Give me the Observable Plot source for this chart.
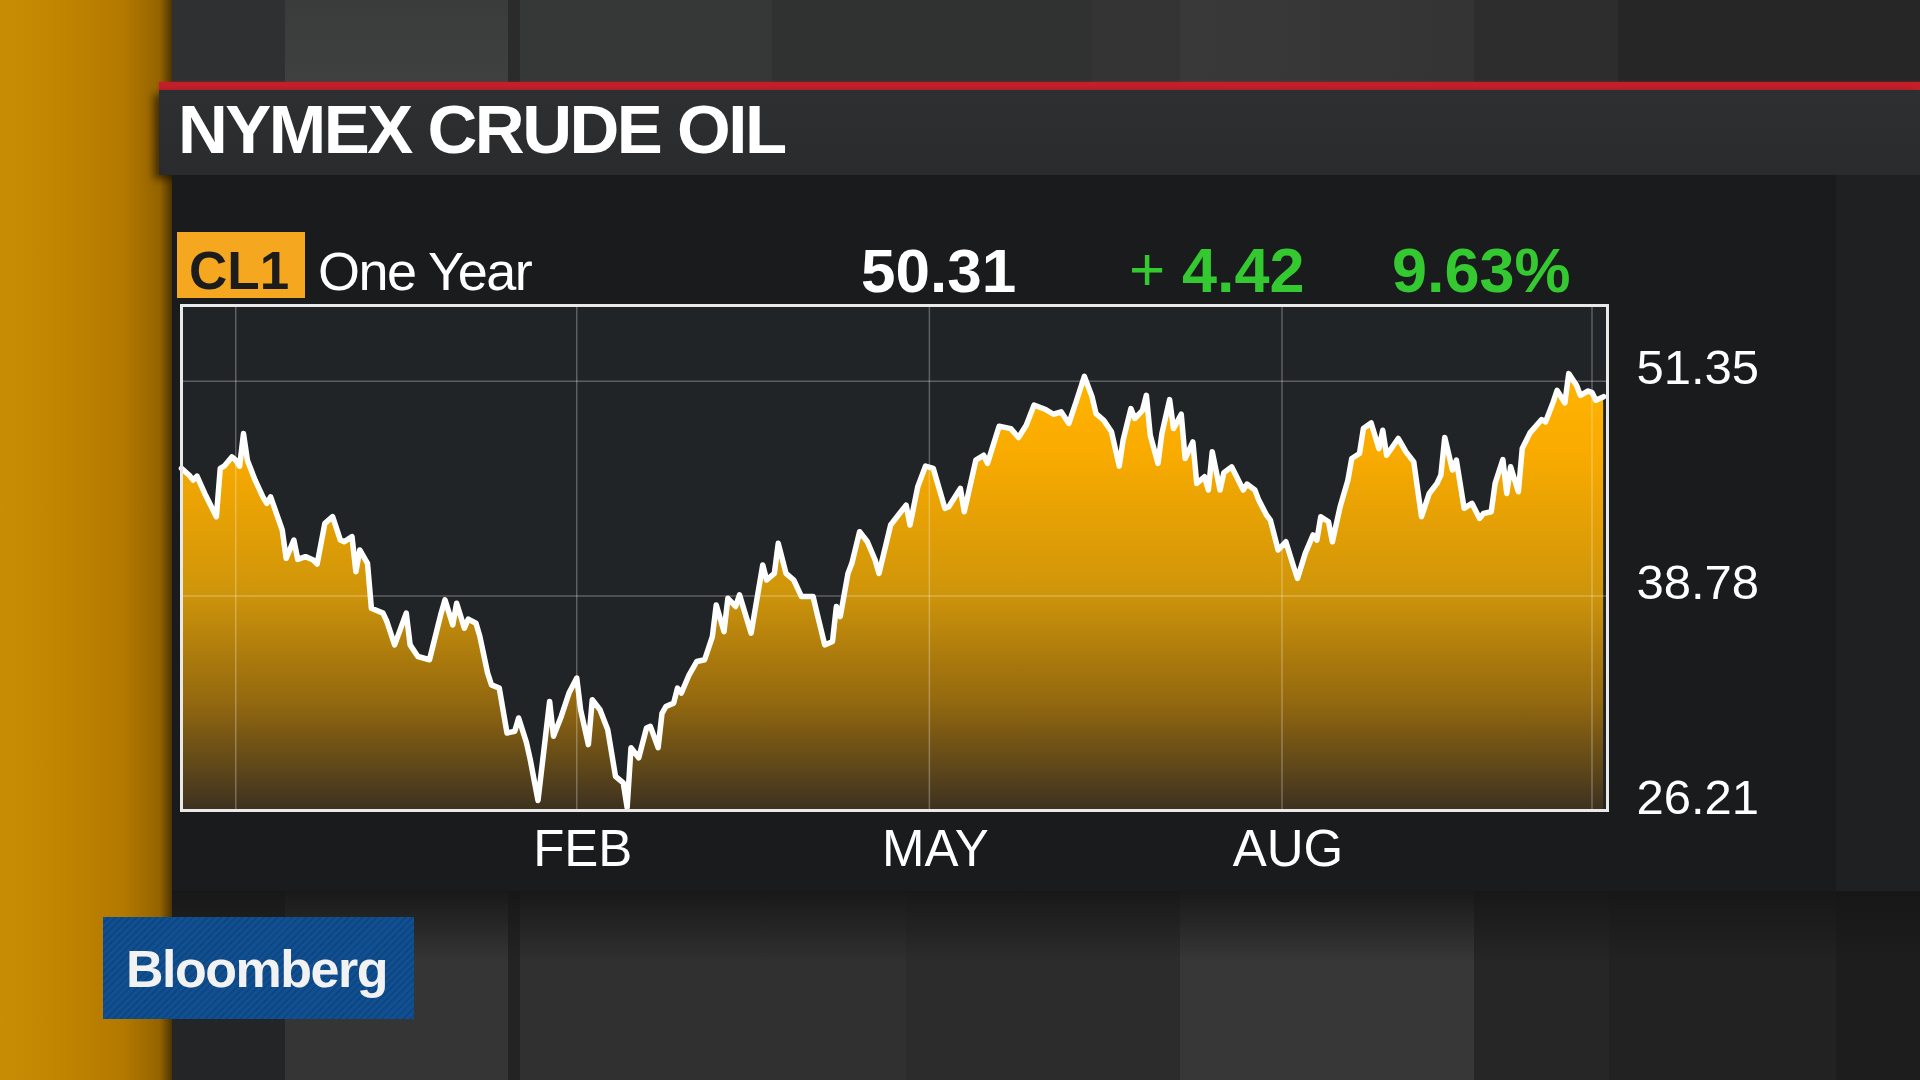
<!DOCTYPE html>
<html><head><meta charset="utf-8">
<script src="https://cdn.jsdelivr.net/npm/d3@7"></script>
<script src="https://cdn.jsdelivr.net/npm/@observablehq/plot@0.6"></script>
<style>
html,body{margin:0;padding:0;background:#2a2a2a;width:1920px;height:1080px;overflow:hidden;}
#stage{position:relative;width:1920px;height:1080px;font-family:"Liberation Sans",Arial,sans-serif;}
.bg{position:absolute;}
#deco{position:absolute;left:0;top:0;}
#chart{position:absolute;left:170px;top:296px;}
</style></head><body>
<div id="stage">
  <!-- top strip panels -->
  <div class="bg" style="left:172px;top:0;width:113px;height:83px;background:#2f3031"></div>
  <div class="bg" style="left:285px;top:0;width:223px;height:83px;background:linear-gradient(#3a3b3b,#3f4040)"></div>
  <div class="bg" style="left:508px;top:0;width:12px;height:83px;background:#2b2b2b"></div>
  <div class="bg" style="left:520px;top:0;width:252px;height:83px;background:#363737"></div>
  <div class="bg" style="left:772px;top:0;width:320px;height:83px;background:#303131"></div>
  <div class="bg" style="left:1092px;top:0;width:88px;height:83px;background:#343434"></div>
  <div class="bg" style="left:1180px;top:0;width:294px;height:83px;background:linear-gradient(to right,#393939,#343434)"></div>
  <div class="bg" style="left:1474px;top:0;width:144px;height:83px;background:#2d2d2d"></div>
  <div class="bg" style="left:1618px;top:0;width:302px;height:83px;background:#262626"></div>
  <!-- bottom panels -->
  <div class="bg" style="left:172px;top:891px;width:113px;height:189px;background:#242526"></div>
  <div class="bg" style="left:285px;top:891px;width:223px;height:189px;background:#353535"></div>
  <div class="bg" style="left:508px;top:891px;width:12px;height:189px;background:#232323"></div>
  <div class="bg" style="left:520px;top:891px;width:386px;height:189px;background:#303030"></div>
  <div class="bg" style="left:906px;top:891px;width:274px;height:189px;background:#2c2c2c"></div>
  <div class="bg" style="left:1180px;top:891px;width:294px;height:189px;background:#373737"></div>
  <div class="bg" style="left:1474px;top:891px;width:135px;height:189px;background:#262626"></div>
  <div class="bg" style="left:1609px;top:891px;width:227px;height:189px;background:#222222"></div>
  <div class="bg" style="left:1836px;top:891px;width:84px;height:189px;background:#1d1d1d"></div>
  <div class="bg" style="left:172px;top:891px;width:1748px;height:70px;background:linear-gradient(rgba(22,22,22,0.9),rgba(22,22,22,0))"></div>
  <!-- orange band -->
  <div class="bg" style="left:0;top:0;width:172px;height:1080px;background:linear-gradient(to right,#c98c05 0%,#c28600 30%,#b37900 72%,#946300 93%,#4d3400 100%)"></div>
  <!-- red line + title bar -->
  <div class="bg" style="left:159px;top:82px;width:1761px;height:8px;background:#c3202b;box-shadow:0 0 3px rgba(210,30,40,0.6)"></div>
  <div class="bg" style="left:159px;top:90px;width:1761px;height:85px;background:linear-gradient(#2d2f31,#292b2d);box-shadow:-5px 4px 8px rgba(0,0,0,0.55)"></div>
  <!-- chart panel -->
  <div class="bg" style="left:172px;top:175px;width:1664px;height:716px;background:#1a1b1d"></div>
  <div class="bg" style="left:1836px;top:175px;width:84px;height:716px;background:#1f2021"></div>
  <!-- CL1 box and Bloomberg box -->
  <div class="bg" style="left:177px;top:232px;width:128px;height:66px;background:#f5a81f"></div>
  <div class="bg" style="left:103px;top:917px;width:311px;height:102px;background:repeating-linear-gradient(135deg,#114f90 0px,#114f90 3px,#0d4783 3px,#0d4783 5px)"></div>
  <svg id="deco" width="1920" height="1080"></svg>
  <div id="chart"></div>
</div>
<script>
// ---- data ----
const titleText = "NYMEX CRUDE OIL";
const symbol = "CL1";
const period = "One Year";
const lastPrice = "50.31";
const netChange = "4.42";
const pctChange = "9.63%";
const brand = "Bloomberg";

const dates = [
"2015-10-22","2015-10-24","2015-10-25","2015-10-26","2015-10-28","2015-10-31","2015-11-01","2015-11-02","2015-11-04","2015-11-05",
"2015-11-06","2015-11-07","2015-11-08","2015-11-10","2015-11-12","2015-11-13","2015-11-14","2015-11-17","2015-11-18","2015-11-20",
"2015-11-21","2015-11-23","2015-11-25","2015-11-26","2015-11-28","2015-11-30","2015-12-02","2015-12-03","2015-12-05","2015-12-06",
"2015-12-07","2015-12-09","2015-12-10","2015-12-13","2015-12-14","2015-12-16","2015-12-19","2015-12-20","2015-12-22","2015-12-25",
"2015-12-28","2015-12-29","2015-12-31","2016-01-01","2016-01-03","2016-01-04","2016-01-06","2016-01-07","2016-01-09","2016-01-10",
"2016-01-12","2016-01-14","2016-01-16","2016-01-17","2016-01-19","2016-01-20","2016-01-22","2016-01-25","2016-01-26","2016-01-28",
"2016-01-30","2016-02-01","2016-02-02","2016-02-04","2016-02-05","2016-02-07","2016-02-09","2016-02-11","2016-02-13","2016-02-14",
"2016-02-15","2016-02-17","2016-02-19","2016-02-20","2016-02-22","2016-02-23","2016-02-24","2016-02-26","2016-02-27","2016-02-28",
"2016-03-01","2016-03-03","2016-03-05","2016-03-07","2016-03-08","2016-03-10","2016-03-11","2016-03-13","2016-03-14","2016-03-17",
"2016-03-20","2016-03-21","2016-03-23","2016-03-24","2016-03-26","2016-03-28","2016-03-30","2016-04-02","2016-04-03","2016-04-05",
"2016-04-07","2016-04-08","2016-04-09","2016-04-11","2016-04-12","2016-04-14","2016-04-16","2016-04-18","2016-04-19","2016-04-22",
"2016-04-24","2016-04-26","2016-04-27","2016-04-29","2016-05-01","2016-05-03","2016-05-06","2016-05-07","2016-05-10","2016-05-11",
"2016-05-14","2016-05-16","2016-05-17","2016-05-20","2016-05-23","2016-05-25","2016-05-27","2016-05-29","2016-06-01","2016-06-03",
"2016-06-05","2016-06-07","2016-06-09","2016-06-11","2016-06-13","2016-06-14","2016-06-16","2016-06-18","2016-06-20","2016-06-21",
"2016-06-23","2016-06-24","2016-06-26","2016-06-27","2016-06-28","2016-06-30","2016-07-01","2016-07-03","2016-07-04","2016-07-06",
"2016-07-07","2016-07-09","2016-07-10","2016-07-12","2016-07-13","2016-07-14","2016-07-16","2016-07-17","2016-07-19","2016-07-22",
"2016-07-23","2016-07-25","2016-07-26","2016-07-28","2016-07-29","2016-07-31","2016-08-02","2016-08-04","2016-08-05","2016-08-07",
"2016-08-09","2016-08-10","2016-08-11","2016-08-13","2016-08-14","2016-08-16","2016-08-18","2016-08-19","2016-08-21","2016-08-22",
"2016-08-24","2016-08-26","2016-08-27","2016-08-28","2016-08-31","2016-09-02","2016-09-04","2016-09-06","2016-09-08","2016-09-10",
"2016-09-11","2016-09-12","2016-09-14","2016-09-15","2016-09-17","2016-09-19","2016-09-21","2016-09-22","2016-09-24","2016-09-25",
"2016-09-27","2016-09-28","2016-09-29","2016-10-01","2016-10-02","2016-10-04","2016-10-07","2016-10-08","2016-10-10","2016-10-11",
"2016-10-13","2016-10-14","2016-10-16","2016-10-17","2016-10-19","2016-10-20","2016-10-21","2016-10-23"
];
const prices = [
46.25,45.85,45.56,45.80,44.78,43.42,46.25,46.38,46.92,46.73,
46.38,48.29,46.73,45.56,44.58,44.20,44.58,42.64,40.98,42.05,
40.92,41.08,40.88,40.65,43.03,43.42,42.05,41.95,42.25,40.20,
41.47,40.69,38.06,37.77,37.28,35.91,37.77,35.91,35.23,35.04,
37.77,38.55,37.08,38.35,36.89,37.42,37.18,36.40,34.26,33.57,
33.38,30.75,30.85,31.63,30.20,29.19,26.80,32.60,30.56,31.72,
33.09,33.97,32.11,30.07,32.70,32.11,30.94,28.21,27.83,26.38,
29.89,29.30,31.04,31.14,29.89,31.90,32.30,32.50,33.38,33.09,
34.16,34.94,35.04,36.40,38.25,36.69,38.64,38.16,38.84,36.60,
40.59,39.71,40.10,41.86,40.10,39.71,38.74,38.74,37.77,35.91,
36.11,38.16,37.57,40.10,40.69,42.54,41.95,40.88,40.10,42.93,
43.52,44.10,42.93,45.17,46.38,46.25,43.91,44.00,45.08,43.71,
46.73,47.02,46.54,48.72,48.58,48.06,48.78,49.95,49.70,49.42,
49.56,48.88,50.24,51.64,50.43,49.46,49.07,48.39,46.38,47.90,
49.75,49.17,49.65,50.53,48.19,46.54,48.29,50.28,48.58,49.42,
46.83,47.80,45.37,45.76,44.98,47.22,44.98,46.00,46.34,44.98,
45.33,44.98,44.39,43.52,43.22,41.47,41.95,40.49,39.81,41.27,
42.35,42.05,43.42,43.12,41.95,44.00,45.56,46.83,47.12,48.58,
48.91,47.41,48.48,47.02,48.00,47.22,46.63,43.42,44.78,45.37,
45.85,48.06,46.15,46.73,43.91,44.20,43.32,43.61,43.71,45.37,
46.77,44.78,46.34,44.88,47.41,48.33,49.11,48.97,50.14,50.82,
50.08,51.80,51.12,50.53,50.78,50.69,50.24,50.45
];
const gridDates = ["2015-11-05","2016-02-01","2016-05-02","2016-08-01","2016-10-20"];
const monthTicks = ["2016-02-01","2016-05-02","2016-08-01"];
const monthLabels = ["FEB","MAY","AUG"];
const yTicks = [26.21, 38.78, 51.35];
const xDomain = ["2015-10-22","2016-10-24"];
const yTop = 55.79;

// ---- header / decoration text ----
const NS = "http://www.w3.org/2000/svg";
const deco = document.getElementById("deco");
function addText(str, attrs) {
  const t = document.createElementNS(NS, "text");
  for (const k in attrs) t.setAttribute(k, attrs[k]);
  t.textContent = str;
  deco.appendChild(t);
  return t;
}
const FF = "Liberation Sans, Arial, sans-serif";
addText(titleText, {x:178, y:153, "font-family":FF, "font-size":69, "font-weight":"bold", "letter-spacing":-2.5, fill:"#ffffff"});
addText(symbol, {x:189, y:289, "font-family":FF, "font-size":53, "font-weight":"bold", fill:"#1c1c1c"});
addText(period, {x:318, y:290, "font-family":FF, "font-size":54, "letter-spacing":-1.5, fill:"#ffffff"});
addText(lastPrice, {x:861, y:292, "font-family":FF, "font-size":62, "font-weight":"bold", fill:"#ffffff"});
addText("+", {x:1129, y:290, "font-family":FF, "font-size":62, fill:"#34c930"});
addText(netChange, {x:1182, y:292, "font-family":FF, "font-size":63, "font-weight":"bold", fill:"#34c930"});
addText(pctChange, {x:1392, y:292, "font-family":FF, "font-size":63, "font-weight":"bold", fill:"#34c930"});
addText(brand, {x:126, y:987, "font-family":FF, "font-size":52, "font-weight":"bold", "letter-spacing":-1.5, fill:"#f2f2f2"});

// ---- chart ----
const data = dates.map((d, i) => ({date: new Date(d), price: prices[i]}));

const gradientDefs = () => {
  const defs = d3.create("svg:defs");
  const g = defs.append("linearGradient").attr("id", "oilGrad")
    .attr("x1", 0).attr("x2", 0).attr("y1", 0).attr("y2", 1);
  [[0, "#ffb400"], [0.18, "#f9ab00"], [0.5, "#cf950a"], [0.75, "#94690f"], [1, "#3c3120"]]
    .forEach(([o, c]) => g.append("stop").attr("offset", o).attr("stop-color", c));
  return defs.node();
};

const chart = Plot.plot({
  width: 1680,
  height: 590,
  marginLeft: 11,
  marginRight: 243,
  marginTop: 9,
  marginBottom: 76,
  style: {background: "transparent", overflow: "visible", fontFamily: FF},
  x: {type: "utc", domain: xDomain.map(d => new Date(d)), axis: null},
  y: {domain: [yTicks[0], yTop], axis: null},
  marks: [
    Plot.frame({fill: "#212427"}),
    gradientDefs,
    Plot.areaY(data, {x: "date", y1: yTicks[0], y2: "price", fill: "url(#oilGrad)", curve: "linear"}),
    Plot.ruleX(gridDates.map(d => new Date(d)), {stroke: "#ffffff", strokeOpacity: 0.27, strokeWidth: 1.5}),
    Plot.ruleY(yTicks.slice(1), {stroke: "#ffffff", strokeOpacity: 0.27, strokeWidth: 1.5}),
    Plot.lineY(data, {x: "date", y: "price", stroke: "#ffffff", strokeWidth: 5.5, curve: "linear"}),
    Plot.frame({stroke: "#e9e9e9", strokeWidth: 3}),
    Plot.text(yTicks, {y: d => d, text: d => d.toFixed(2), frameAnchor: "right", textAnchor: "start",
      lineAnchor: "bottom", dx: 29, dy: 3, fill: "#ffffff", fontSize: 49, fontFamily: FF}),
    Plot.text(monthTicks, {x: d => new Date(d), text: (d, i) => monthLabels[i], frameAnchor: "bottom",
      lineAnchor: "bottom", dy: 55, dx: 6, fill: "#ffffff", fontSize: 51, fontFamily: FF})
  ]
});
document.getElementById("chart").appendChild(chart);
</script>
</body></html>
